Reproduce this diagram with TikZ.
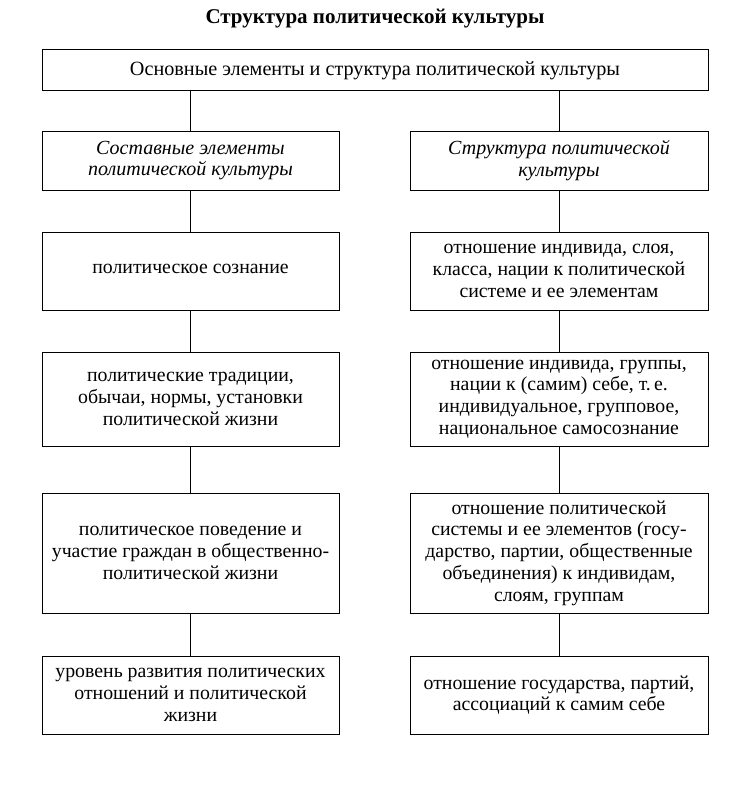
\documentclass[tikz,border=0pt]{standalone}
\usepackage{fontspec}
\setmainfont{Liberation Serif}
\usepackage{tikz}

\begin{document}
\begin{tikzpicture}[x=1pt, y=-1pt, line width=1pt,
		box/.style={draw, rectangle, inner sep=0pt, align=center, font=\fontsize{19.8}{21.7}\selectfont},
		head/.style={box, font=\itshape\fontsize{20}{21.7}\selectfont}]
			\useasboundingbox (0,0) rectangle (732,797);
			\node(H) at (375, 19) {\bfseries\fontsize{21}{24}\selectfont Структура политической культуры};
			\node[box, minimum width=666, minimum height=41, font=\fontsize{20.2}{24}\selectfont](M) at (375, 70.5) {Основные элементы и структура политической культуры};
			\node[head, minimum width=297, minimum height=59](L0) at (190.5, 160.5) {Составные элементы\\ политической культуры};
			\node[head, minimum width=298, minimum height=59](R0) at (559, 160.5) {Структура политической\\ культуры};
			\node[box, minimum width=297, minimum height=78](L1) at (190.5, 271) {\raisebox{5pt}{политическое сознание}};
			\node[box, minimum width=298, minimum height=78](R1) at (559, 271) {отношение индивида, слоя,\\ класса, нации к политической\\ системе и ее элементам};
			\node[box, minimum width=297, minimum height=94](L2) at (190.5, 399) {политические традиции,\\ обычаи, нормы, установки\\ политической жизни};
			\node[box, minimum width=298, minimum height=94](R2) at (559, 399) {отношение индивида, группы,\\ нации к (самим) себе, т.\,е.\\ индивидуальное, групповое,\\ национальное самосознание};
			\node[box, minimum width=297, minimum height=120](L3) at (190.5, 553) {политическое поведение и\\ участие граждан в общественно-\\ политической жизни};
			\node[box, minimum width=298, minimum height=120](R3) at (559, 553) {отношение политической\\ системы и ее элементов (госу-\\ дарство, партии, общественные\\ объединения) к индивидам,\\ слоям, группам};
			\node[box, minimum width=297, minimum height=78](L4) at (190.5, 695) {уровень развития политических\\ отношений и политической\\ жизни};
			\node[box, minimum width=298, minimum height=78](R4) at (559, 695) {отношение государства, партий,\\ ассоциаций к самим себе};
			\draw(M.south -| L0) -- (L0);
			\draw(M.south -| R0) -- (R0);
			\draw(L0) -- (L1);
			\draw(L1) -- (L2);
			\draw(L2) -- (L3);
			\draw(L3) -- (L4);
			\draw(R0) -- (R1);
			\draw(R1) -- (R2);
			\draw(R2) -- (R3);
			\draw(R3) -- (R4);
		\end{tikzpicture}
\end{document}
